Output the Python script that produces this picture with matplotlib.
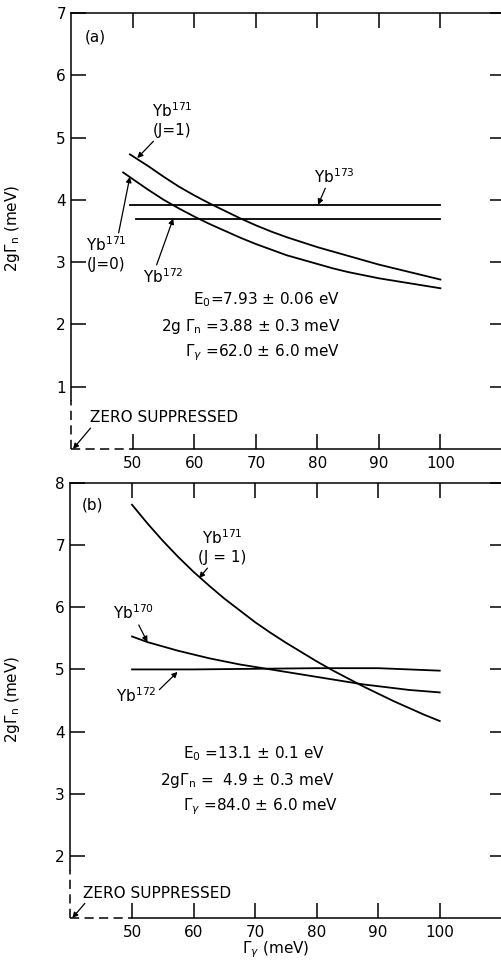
import numpy as np
import matplotlib.pyplot as plt

# (a) E0 = 7.93 eV resonance: 2g*Gamma_n versus Gamma_gamma
a_j1_x = [49.5, 52.5, 55, 57.5, 60, 62.5, 65, 67.5, 70, 72.5, 75, 77.5, 80,
          82.5, 85, 87.5, 90, 92.5, 95, 97.5, 100]
a_j1_y = [4.73, 4.54, 4.37, 4.21, 4.07, 3.94, 3.82, 3.70, 3.59, 3.49, 3.40, 3.32, 3.24,
          3.17, 3.10, 3.03, 2.96, 2.90, 2.84, 2.78, 2.72]
a_j0_x = [48.4, 50, 52.5, 55, 57.5, 60, 62.5, 65, 67.5, 70, 72.5, 75, 77.5, 80,
          82.5, 85, 87.5, 90, 92.5, 95, 97.5, 100]
a_j0_y = [4.44, 4.33, 4.16, 4.00, 3.86, 3.73, 3.61, 3.50, 3.39, 3.29, 3.20, 3.11, 3.04, 2.97,
          2.90, 2.84, 2.79, 2.74, 2.70, 2.66, 2.62, 2.58]
a_173_x = [49.5, 100]
a_173_y = [3.92, 3.92]
a_172_x = [50.5, 100]
a_172_y = [3.70, 3.70]

# (b) E0 = 13.1 eV resonance
b_j1_x = [50, 52.5, 55, 57.5, 60, 62.5, 65, 67.5, 70, 72.5, 75, 77.5, 80,
          82.5, 85, 87.5, 90, 92.5, 95, 97.5, 100]
b_j1_y = [7.65, 7.35, 7.07, 6.81, 6.57, 6.35, 6.14, 5.95, 5.76, 5.59, 5.43, 5.28, 5.13,
          4.99, 4.86, 4.73, 4.61, 4.49, 4.38, 4.27, 4.17]
b_170_x = [50, 52.5, 55, 57.5, 60, 62.5, 65, 67.5, 70, 72.5, 75, 77.5, 80,
           82.5, 85, 87.5, 90, 92.5, 95, 97.5, 100]
b_170_y = [5.53, 5.44, 5.37, 5.30, 5.24, 5.18, 5.13, 5.08, 5.04, 5.00, 4.96, 4.92, 4.88,
           4.84, 4.80, 4.76, 4.73, 4.70, 4.67, 4.65, 4.63]
b_172_x = [50, 60, 70, 80, 90, 100]
b_172_y = [5.00, 5.00, 5.01, 5.02, 5.02, 4.98]

xticks = [50, 60, 70, 80, 90, 100]

fig = plt.figure(figsize=(5.02, 9.68), dpi=100)
ax_a = fig.add_axes([0.1424, 0.5362, 0.8635, 0.4504])
ax_b = fig.add_axes([0.1404, 0.05165, 0.8655, 0.4494])

lw = 1.3
fs = 11
dash = (0, (6, 3.5))
arrow = dict(arrowstyle="-|>", lw=0.9, color="black", mutation_scale=8,
             shrinkA=0, shrinkB=0)


def frame(ax, ylo, yhi, ybreak, xhi):
    ax.set_xlim(40, xhi)
    ax.set_ylim(ylo, yhi)
    ax.spines["left"].set_visible(False)
    ax.spines["bottom"].set_visible(False)
    for s in ("top", "right"):
        ax.spines[s].set_linewidth(1.1)
    # broken axes near the origin
    ax.plot([40, 50], [ylo, ylo], ls=dash, lw=1.1, color="k", clip_on=False)
    ax.plot([50, xhi], [ylo, ylo], lw=1.1, color="k", clip_on=False)
    ax.plot([40, 40], [ylo, ybreak], ls=dash, lw=1.1, color="k", clip_on=False)
    ax.plot([40, 40], [ybreak, yhi], lw=1.1, color="k", clip_on=False)
    ax.set_xticks(xticks)
    ax.set_yticks(range(int(ylo) + 1, int(yhi) + 1))
    ax.tick_params(direction="in", length=10.5, width=1.1, top=True, right=True,
                   labelsize=fs)
    ax.tick_params(axis="y", pad=4)
    ax.tick_params(axis="x", pad=5)


frame(ax_a, 0, 7, 0.78, 110.5)
frame(ax_b, 1, 8, 1.77, 110.6)

# panel (a)
for xs, ys in [(a_j1_x, a_j1_y), (a_j0_x, a_j0_y), (a_173_x, a_173_y), (a_172_x, a_172_y)]:
    ax_a.plot(xs, ys, "k-", lw=lw, solid_joinstyle="round")

ax_a.text(43.8, 6.61, "(a)", fontsize=fs, ha="center", va="center")
ax_a.annotate("Yb$^{171}$\n(J=1)", xy=(50.7, 4.67), xytext=(56.4, 5.28),
              ha="center", va="center", fontsize=fs, linespacing=1.25,
              arrowprops=dict(arrow, relpos=(0.1, 0.0)))
ax_a.annotate("Yb$^{171}$\n(J=0)", xy=(49.5, 4.37), xytext=(45.6, 3.13),
              ha="center", va="center", fontsize=fs, linespacing=1.25,
              arrowprops=dict(arrow, relpos=(0.8, 1.0)))
ax_a.annotate("Yb$^{172}$", xy=(56.55, 3.70), xytext=(55.0, 2.76),
              ha="center", va="center", fontsize=fs,
              arrowprops=dict(arrow, relpos=(0.3, 1.0)))
ax_a.annotate("Yb$^{173}$", xy=(80.1, 3.92), xytext=(82.8, 4.38),
              ha="center", va="center", fontsize=fs,
              arrowprops=dict(arrow, relpos=(0.3, 0.0)))

ax_a.text(83.7, 2.39, "E$_0$=7.93 ± 0.06 eV", fontsize=fs, ha="right", va="center")
ax_a.text(83.7, 1.96, r"2g $\Gamma_\mathrm{n}$ =3.88 ± 0.3 meV", fontsize=fs, ha="right", va="center")
ax_a.text(83.7, 1.54, r"$\Gamma_\gamma$ =62.0 ± 6.0 meV", fontsize=fs, ha="right", va="center")

ax_a.annotate("ZERO SUPPRESSED", xy=(40.25, 0.0), xytext=(43.0, 0.50),
              ha="left", va="center", fontsize=fs,
              arrowprops=dict(arrow, relpos=(0.02, 0.0)))

# panel (b)
for xs, ys in [(b_j1_x, b_j1_y), (b_170_x, b_170_y), (b_172_x, b_172_y)]:
    ax_b.plot(xs, ys, "k-", lw=lw, solid_joinstyle="round")

ax_b.text(43.6, 7.65, "(b)", fontsize=fs, ha="center", va="center")
ax_b.annotate("Yb$^{171}$\n(J = 1)", xy=(60.9, 6.47), xytext=(64.6, 6.97),
              ha="center", va="center", fontsize=fs, linespacing=1.25,
              arrowprops=dict(arrow, relpos=(0.25, 0.0)))
ax_b.annotate("Yb$^{170}$", xy=(52.5, 5.44), xytext=(50.2, 5.91),
              ha="center", va="center", fontsize=fs,
              arrowprops=dict(arrow, relpos=(0.6, 0.0)))
ax_b.annotate("Yb$^{172}$", xy=(57.4, 4.96), xytext=(50.7, 4.57),
              ha="center", va="center", fontsize=fs,
              arrowprops=dict(arrow, relpos=(1.0, 0.7)))

ax_b.text(58.3, 3.65, "E$_0$ =13.1 ± 0.1 eV", fontsize=fs, ha="left", va="center")
ax_b.text(54.6, 3.22, r"2g$\Gamma_\mathrm{n}$ =  4.9 ± 0.3 meV", fontsize=fs, ha="left", va="center")
ax_b.text(58.3, 2.79, r"$\Gamma_\gamma$ =84.0 ± 6.0 meV", fontsize=fs, ha="left", va="center")

ax_b.annotate("ZERO SUPPRESSED", xy=(40.3, 1.0), xytext=(42.0, 1.40),
              ha="left", va="center", fontsize=fs,
              arrowprops=dict(arrow, relpos=(0.03, 0.0)))

fig.text(0.024, 1 - 228 / 968, r"2g$\Gamma_\mathrm{n}$ (meV)", rotation=90,
         ha="center", va="center", fontsize=fs)
fig.text(0.024, 1 - 699 / 968, r"2g$\Gamma_\mathrm{n}$ (meV)", rotation=90,
         ha="center", va="center", fontsize=fs)
fig.text(276 / 502, 1 - 950 / 968, r"$\Gamma_\gamma$ (meV)",
         ha="center", va="center", fontsize=fs)

fig.savefig("out.png", dpi=100)
